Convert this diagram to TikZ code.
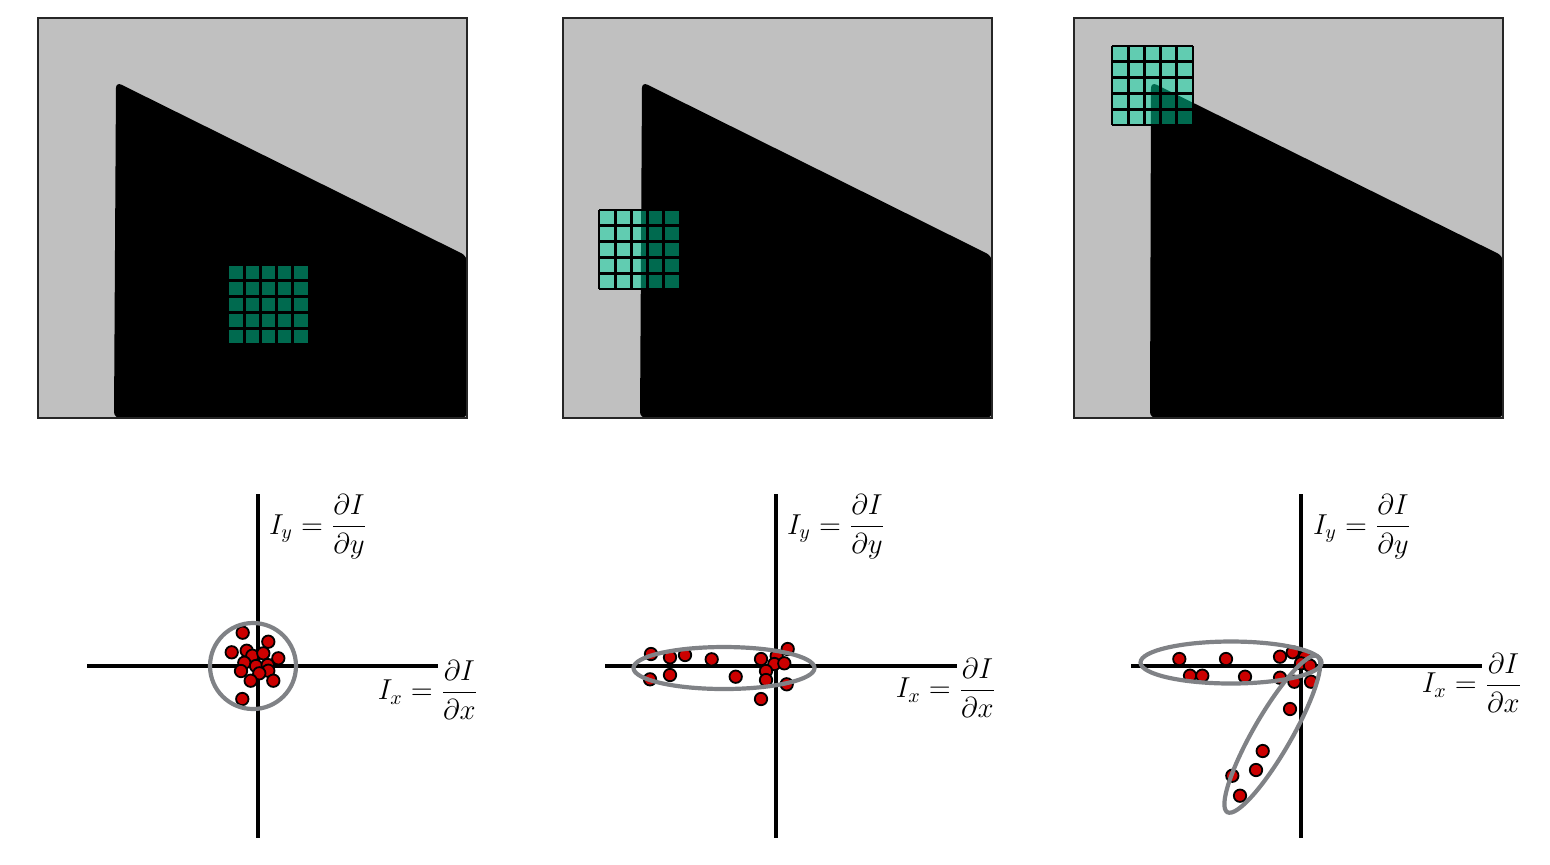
\documentclass[tikz,border=0pt]{standalone}
\usepackage{amsmath}
\definecolor{panelgray}{RGB}{192,192,192}
\definecolor{patchgreen}{RGB}{0,218,163}
\definecolor{dotred}{RGB}{204,0,0}
\definecolor{ellgray}{RGB}{128,130,134}
\tikzset{
  panel/.style={fill=panelgray, draw=black!85, line width=0.75pt},
  shapefill/.style={fill=black, rounded corners=3pt},
  patchbox/.style={fill=patchgreen, fill opacity=0.49},
  gridline/.style={draw=black, line width=1.4pt},
  axisline/.style={draw=black, line width=1.7pt},
  ell/.style={draw=ellgray, line width=2.1pt},
  dot/.style={fill=dotred, draw=black, line width=0.9pt},
  lab/.style={font=\fontsize{14.5}{17}\selectfont, inner sep=0pt}
}
\newcommand\mypatch[2]{%
  \fill[patchbox] (#1,#2) rectangle ++(81,79);
  \foreach \i in {0,...,5}{
    \draw[gridline] ({#1+\i*16.2},#2) -- ++(0,79);
    \draw[gridline] (#1,{#2+\i*15.8}) -- ++(81,0);
  }}
\begin{document}
\begin{tikzpicture}[x=0.5pt,y=-0.5pt]
\useasboundingbox (0,0) rectangle (1550,864);
% ---------- top panels ----------
\fill[panelgray] (38,18) rectangle (467,418);
\fill[shapefill] (114,418) -- (116,82) -- (467,256) -- (467,418) -- cycle;
\mypatch{228}{265}
\draw[panel, fill=none] (38,18) rectangle (467,418);

\fill[panelgray] (563,18) rectangle (992,418);
\fill[shapefill] (640,418) -- (642,82) -- (992,256) -- (992,418) -- cycle;
\mypatch{599}{210}
\draw[panel, fill=none] (563,18) rectangle (992,418);

\fill[panelgray] (1074,18) rectangle (1503,418);
\fill[shapefill] (1150,418) -- (1151,82) -- (1503,256) -- (1503,418) -- cycle;
\mypatch{1112}{46}
\draw[panel, fill=none] (1074,18) rectangle (1503,418);

% ---------- plot 1 ----------
\coordinate (v1t) at (258,494); \coordinate (v1b) at (258,838);
\coordinate (h1l) at (87,666);  \coordinate (h1r) at (438,666);
\draw[axisline] (v1t) -- (v1b);
\draw[axisline] (h1l) -- (h1r);
\node[lab] (iy1) at (318,527) {$I_y = \dfrac{\partial I}{\partial y}$};
\node[lab] (ix1) at (428,690) {$I_x = \dfrac{\partial I}{\partial x}$};
\foreach \p in {(242.7,632.7),(268.3,641.7),(231.7,652.3),(246.7,650.7),(252.3,655.7),(263.3,653.3),(278.3,658.3),(244.3,662.7),(256,666),(267.7,665),(268.3,670.7),(241,671),(259.3,673.3),(273.3,680.7),(250.7,680.7),(242.3,699)}
  \filldraw[dot] \p circle[radius=6.2];
\draw[ell] (253,666) ellipse[x radius=43, y radius=43];

% ---------- plot 2 ----------
\coordinate (v2t) at (776,494); \coordinate (v2b) at (776,838);
\coordinate (h2l) at (605,666); \coordinate (h2r) at (957,666);
\draw[axisline] (v2t) -- (v2b);
\draw[axisline] (h2l) -- (h2r);
\node[lab] (iy2) at (836,527) {$I_y = \dfrac{\partial I}{\partial y}$};
\node[lab] (ix2) at (946,688) {$I_x = \dfrac{\partial I}{\partial x}$};
\foreach \p in {(651,654),(670,657.3),(685,655),(711.7,659.3),(761,659),(776.7,656),(787.7,649),(774.3,664),(784.3,663.3),(766,671),(650,679.3),(670,675),(735.7,676.7),(766,680),(786.7,684.3),(761,699)}
  \filldraw[dot] \p circle[radius=6.2];
\draw[ell] (724,668) ellipse[x radius=90.5, y radius=21];

% ---------- plot 3 ----------
\coordinate (v3t) at (1301,494); \coordinate (v3b) at (1301,838);
\coordinate (h3l) at (1131,666); \coordinate (h3r) at (1482,666);
\draw[axisline] (v3t) -- (v3b);
\draw[axisline] (h3l) -- (h3r);
\node[lab] (iy3) at (1362,527) {$I_y = \dfrac{\partial I}{\partial y}$};
\node[lab] (ix3) at (1472,683) {$I_x = \dfrac{\partial I}{\partial x}$};
\foreach \p in {(1179.3,659),(1226,659),(1280,656.7),(1292.7,652.3),(1305,657),(1301,663.3),(1310,665.7),(1190,675.7),(1202.3,675.7),(1245,676.7),(1280,677.7),(1294.3,681.7),(1311,681.7),(1290,709),(1262.7,751),(1256,770),(1232.3,775.7),(1240,795.7)}
  \filldraw[dot] \p circle[radius=6.2];
\draw[ell] (1231,662.5) ellipse[x radius=90.5, y radius=21];
\draw[ell, rotate around={60:(1272.3,734.2)}] (1272.3,734.2) ellipse[x radius=90, y radius=19];
\end{tikzpicture}
\end{document}
